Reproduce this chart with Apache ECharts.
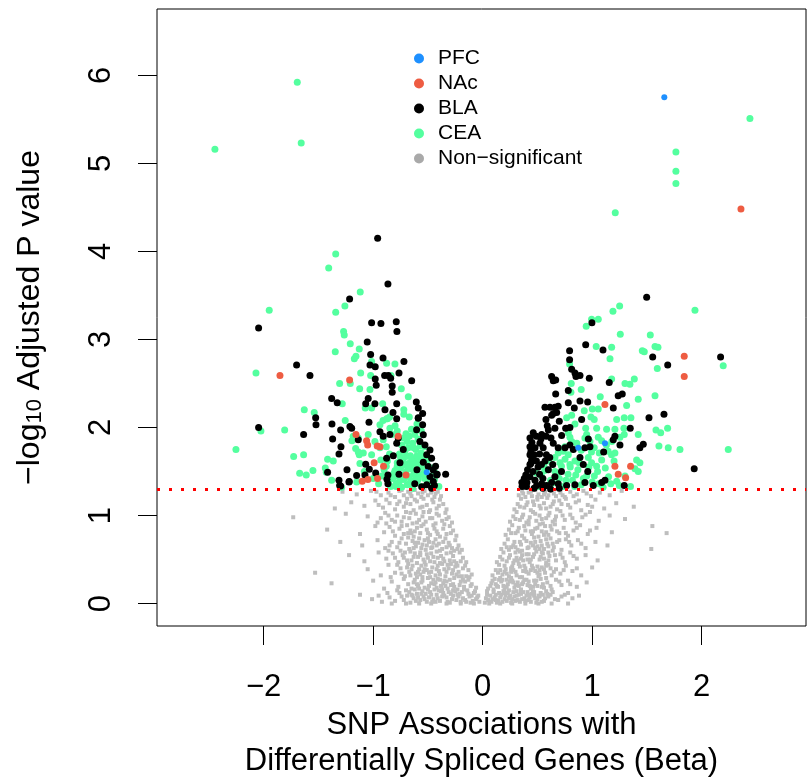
<!DOCTYPE html>
<html>
<head>
<meta charset="utf-8">
<script src="https://cdn.jsdelivr.net/npm/echarts@6/dist/echarts.min.js"></script>
<style>
  html, body { margin: 0; padding: 0; background: #fff; }
  #chart { width: 808px; height: 778px; }
</style>
</head>
<body>
<div id="chart"></div>
<script>
// axis ticks and cutoff
const xTicks = [-2, -1, 0, 1, 2];
const yTicks = [0, 1, 2, 3, 4, 5, 6];
const pCutoff = 0.05;
const legendNames = ['PFC', 'NAc', 'BLA', 'CEA', 'Non-significant'];

// [beta, -log10 adjusted p]
const pfcPoints = [
  [-0.511, 1.49], [1.659, 5.75], [1.117, 1.82], [0.873, 1.77]
];

const nacPoints = [
  [-1.851, 2.59], [-1.215, 2.54], [-1.157, 1.92], [-1.06, 1.85], [-1.05, 1.8], [-0.963, 1.79],
  [-0.771, 1.9], [-0.991, 1.6], [-0.905, 1.56], [-0.96, 1.42], [-1.048, 1.41], [-1.1, 1.39],
  [-0.7, 1.46], [-0.938, 1.78],
  [2.359, 4.48], [1.841, 2.81], [1.841, 2.58], [1.117, 2.26], [1.208, 1.56], [1.351, 1.56],
  [1.238, 1.47], [1.306, 1.43]
];

const blaPoints = [
  // left
  [-0.959, 4.15], [-0.865, 3.63], [-1.215, 3.46], [-2.046, 3.13], [-1.014, 3.19], [-0.929, 3.18],
  [-0.789, 3.2], [-0.783, 3.09], [-1.054, 2.97], [-1.023, 2.83], [-0.91, 2.79], [-0.719, 2.75],
  [-1.029, 2.71], [-0.981, 2.69], [-1.699, 2.71], [-1.577, 2.59], [-0.764, 2.62], [-0.981, 2.55],
  [-0.895, 2.59], [-0.862, 2.59], [-0.84, 2.56], [-0.648, 2.53], [-0.972, 2.48], [-0.826, 2.47],
  [-0.826, 2.4], [-1.379, 2.33], [-1.045, 2.33], [-1.328, 2.28], [-0.984, 2.27], [-1.068, 2.27],
  [-0.785, 2.27], [-0.606, 2.29], [-0.892, 2.2], [-0.588, 2.22], [-1.525, 2.11], [-1.522, 2.03],
  [-0.819, 2.17], [-0.785, 2.1], [-0.548, 2.16], [-0.588, 2.11], [-1.376, 2.04], [-1.038, 2.06],
  [-1.212, 2.01], [-1.297, 1.97], [-2.046, 2.0], [-1.635, 1.92], [-1.37, 1.87], [-1.294, 1.78],
  [-1.312, 1.7], [-1.239, 1.52], [-1.221, 1.38], [-1.312, 1.4], [-1.306, 1.34], [-1.416, 1.49],
  [-1.218, 1.385], [-1.297, 1.336], [-1.151, 1.453], [-1.068, 1.583], [-1.035, 1.526], [-0.977, 1.484],
  [-1.075, 1.461], [-0.865, 1.461], [-0.764, 1.469], [-0.874, 1.413], [-0.865, 1.362],
  [-1.196, 1.99], [-1.136, 1.86], [-0.938, 1.95], [-0.908, 1.9], [-0.847, 1.92], [-0.771, 1.88],
  [-0.785, 1.82], [-0.725, 1.75], [-0.816, 1.68], [-0.877, 1.65], [-0.755, 1.6],
  [-0.588, 2.105], [-0.548, 2.03], [-0.603, 1.973], [-0.542, 1.916], [-0.573, 1.84], [-0.527, 1.802],
  [-0.481, 1.745], [-0.511, 1.689], [-0.466, 1.651], [-0.542, 1.606], [-0.497, 1.556], [-0.451, 1.518],
  [-0.42, 1.461], [-0.481, 1.442], [-0.451, 1.385], [-0.511, 1.348], [-0.466, 1.31], [-0.557, 1.328],
  [-0.415, 1.47], [-0.338, 1.47], [-0.44, 1.34], [-0.43, 1.56], [-0.6, 1.52], [-0.62, 1.36],
  // right
  [1.498, 3.48], [0.998, 3.19], [0.941, 2.94], [1.099, 2.88], [0.794, 2.87], [1.553, 2.8],
  [0.794, 2.77], [1.69, 2.71], [0.813, 2.66], [0.843, 2.62], [0.852, 2.58], [0.889, 2.59],
  [0.63, 2.58], [0.645, 2.53], [0.667, 2.54], [0.974, 2.56], [1.156, 2.51], [0.782, 2.42],
  [0.667, 2.38], [1.238, 2.36], [1.275, 2.38], [0.889, 2.3], [0.959, 2.29], [0.569, 2.23],
  [0.615, 2.23], [0.66, 2.23], [0.69, 2.24], [0.782, 2.28], [0.837, 2.22], [1.193, 2.22],
  [0.645, 2.16], [0.676, 2.17], [0.63, 2.14], [0.904, 2.09], [0.578, 2.09], [1.519, 2.11],
  [1.656, 2.15], [0.758, 1.99], [0.797, 2.0], [0.66, 1.99], [1.348, 1.99], [0.462, 1.94],
  [0.432, 1.88], [0.539, 1.92], [0.532, 1.87], [0.624, 1.88], [0.721, 1.91], [0.965, 1.87],
  [1.208, 1.9], [1.193, 1.86], [0.432, 1.78], [0.441, 1.73], [0.478, 1.77], [0.523, 1.82],
  [0.553, 1.77], [0.645, 1.82], [0.69, 1.77], [0.752, 1.77], [0.797, 1.8], [0.828, 1.75],
  [0.934, 1.77], [0.98, 1.78], [1.254, 1.8], [1.436, 1.77], [1.467, 1.81], [1.932, 1.53],
  [0.432, 1.69], [0.447, 1.63], [0.432, 1.58], [0.491, 1.62], [0.537, 1.58], [0.506, 1.55],
  [0.582, 1.69], [0.613, 1.66], [0.889, 1.66], [0.919, 1.58], [1.105, 1.72], [1.293, 1.34],
  [2.173, 2.8], [0.358, 1.375], [0.404, 1.375], [0.394, 1.46], [0.432, 1.44], [0.478, 1.4],
  [0.493, 1.34], [0.539, 1.36], [0.584, 1.34], [0.63, 1.375], [0.69, 1.36], [0.767, 1.34],
  [0.843, 1.35], [0.934, 1.375], [1.01, 1.34], [1.087, 1.375], [1.117, 1.4], [0.46, 1.5],
  [0.52, 1.47], [0.72, 1.5], [0.96, 1.5],
  [0.38, 1.42], [0.41, 1.52], [0.44, 1.59], [0.47, 1.69], [0.45, 1.83], [0.49, 1.9], [0.4, 1.33],
  [0.36, 1.33], [0.52, 1.7], [0.57, 1.62], [0.55, 1.42], [0.6, 1.52], [0.64, 1.58], [0.66, 1.44],
  [0.62, 1.3], [0.7, 1.31], [0.47, 1.31], [0.55, 1.31], [0.58, 1.9], [0.6, 1.97], [0.7, 2.07], [0.59, 2.02]
];

const ceaPoints = [
  // left
  [-1.693, 5.92], [-2.445, 5.16], [-1.657, 5.23], [-1.342, 3.97], [-1.406, 3.81], [-1.118, 3.54],
  [-1.258, 3.38], [-1.949, 3.33], [-1.342, 3.31], [-1.27, 3.09], [-1.264, 3.05], [-1.209, 2.95],
  [-1.127, 2.89], [-1.346, 2.86], [-1.157, 2.81], [-1.172, 2.78], [-1.014, 2.75], [-0.877, 2.73],
  [-0.801, 2.72], [-2.07, 2.62], [-1.114, 2.62], [-1.023, 2.59], [-0.837, 2.59], [-1.306, 2.5],
  [-1.209, 2.5], [-1.123, 2.44], [-1.029, 2.43], [-0.743, 2.44], [-0.679, 2.35], [-1.282, 2.27],
  [-0.913, 2.27], [-1.072, 2.22], [-1.014, 2.22], [-1.629, 2.2], [-1.538, 2.17], [-0.87, 2.1],
  [-0.91, 2.08], [-0.85, 2.12], [-0.72, 2.15], [-1.255, 2.08], [-2.025, 1.96], [-1.808, 1.97],
  [-2.253, 1.75], [-1.726, 1.67], [-1.635, 1.69], [-1.671, 1.48], [-1.611, 1.46], [-1.55, 1.51],
  [-1.416, 1.64], [-1.437, 1.54], [-1.364, 1.62], [-1.428, 1.49], [-1.379, 1.4], [-1.288, 1.32],
  [-1.182, 1.9], [-1.194, 1.85], [-1.136, 1.88], [-1.16, 1.76], [-1.127, 1.69], [-1.121, 1.59],
  [-1.09, 1.71], [-1.136, 1.72], [-1.014, 1.69], [-0.938, 1.77], [-0.984, 1.84], [-1.045, 1.92],
  [-0.908, 1.86], [-0.847, 1.99], [-0.938, 2.03], [-0.877, 2.1],
  [-1.0, 1.42], [-0.95, 1.36], [-0.9, 1.52], [-0.83, 1.45], [-1.08, 1.5], [-1.15, 1.38], [-0.79, 1.33],
  [-0.84, 1.33], [-0.79, 1.36], [-0.74, 1.32], [-0.69, 1.35], [-0.64, 1.31], [-0.6, 1.37],
  [-0.55, 1.33], [-0.5, 1.36], [-0.45, 1.32], [-0.4, 1.33],
  [-0.82, 1.42], [-0.77, 1.45], [-0.72, 1.41], [-0.67, 1.44], [-0.62, 1.4], [-0.58, 1.46],
  [-0.53, 1.42], [-0.48, 1.45], [-0.44, 1.41],
  [-0.8, 1.51], [-0.75, 1.54], [-0.7, 1.5], [-0.65, 1.53], [-0.61, 1.49], [-0.56, 1.55],
  [-0.52, 1.51], [-0.47, 1.54],
  [-0.78, 1.6], [-0.73, 1.63], [-0.68, 1.59], [-0.63, 1.62], [-0.58, 1.66], [-0.54, 1.61], [-0.5, 1.64],
  [-0.76, 1.7], [-0.71, 1.73], [-0.66, 1.68], [-0.61, 1.75], [-0.56, 1.71], [-0.53, 1.78],
  [-0.74, 1.8], [-0.69, 1.84], [-0.64, 1.82], [-0.59, 1.87], [-0.7, 1.93], [-0.65, 1.98],
  [-0.6, 2.04], [-0.67, 2.12], [-0.72, 2.2], [-0.87, 1.62], [-0.85, 1.7], [-0.88, 1.78],
  [-0.83, 1.92], [-0.78, 1.96], [-0.8, 2.02],
  [-0.86, 1.38], [-0.81, 1.48], [-0.76, 1.39], [-0.71, 1.47], [-0.66, 1.38], [-0.63, 1.47],
  [-0.59, 1.41], [-0.54, 1.48], [-0.5, 1.4], [-0.46, 1.37], [-0.43, 1.48], [-0.78, 1.56],
  [-0.73, 1.57], [-0.68, 1.55], [-0.64, 1.58], [-0.59, 1.59], [-0.55, 1.65], [-0.51, 1.58],
  [-0.75, 1.66], [-0.7, 1.67], [-0.65, 1.65], [-0.6, 1.68], [-0.68, 1.77], [-0.63, 1.77],
  [-0.57, 1.79], [-0.72, 1.88], [-0.67, 1.9], [-0.62, 1.92], [-0.56, 1.96], [-0.92, 1.45],
  [-0.88, 1.56], [-0.93, 1.63],
  // right
  [2.441, 5.51], [1.765, 5.13], [1.765, 4.91], [1.765, 4.77], [1.211, 4.44], [1.251, 3.38],
  [1.19, 3.32], [1.939, 3.33], [0.995, 3.23], [1.056, 3.23], [0.946, 3.15], [1.257, 3.06],
  [1.531, 3.05], [1.037, 2.92], [1.178, 2.91], [1.458, 2.87], [1.476, 2.86], [1.574, 2.92],
  [1.601, 2.91], [1.163, 2.78], [0.794, 2.72], [1.595, 2.67], [2.197, 2.7], [1.178, 2.55],
  [1.385, 2.55], [1.3, 2.5], [1.345, 2.49], [0.809, 2.5], [0.9, 2.43], [0.806, 2.4],
  [1.074, 2.35], [1.574, 2.36], [1.421, 2.32], [0.928, 2.19], [1.001, 2.21], [1.056, 2.21],
  [1.315, 2.25], [0.767, 2.11], [0.813, 2.14], [0.989, 2.12], [1.019, 2.09], [1.224, 2.09],
  [1.293, 2.11], [1.354, 2.11], [0.843, 2.04], [0.941, 1.99], [1.041, 1.99], [1.132, 1.98],
  [1.208, 1.98], [1.29, 1.99], [1.583, 1.97], [1.626, 1.94], [1.689, 1.99], [1.421, 1.92],
  [0.782, 1.94], [0.797, 1.89], [0.813, 1.84], [0.934, 1.88], [0.95, 1.92], [0.98, 1.84],
  [1.056, 1.89], [1.087, 1.85], [1.254, 1.89], [1.293, 1.92], [0.69, 1.71], [0.736, 1.73],
  [0.782, 1.69], [1.019, 1.77], [0.994, 1.72], [1.065, 1.71], [1.61, 1.79], [1.695, 1.77],
  [1.802, 1.75], [2.243, 1.75], [1.146, 1.73], [1.177, 1.69], [1.208, 1.71], [0.66, 1.66],
  [0.706, 1.6], [0.752, 1.64], [0.797, 1.58], [0.843, 1.62], [0.965, 1.66], [0.995, 1.6],
  [1.041, 1.56], [1.087, 1.63], [1.406, 1.63], [1.436, 1.6], [1.391, 1.53], [1.421, 1.5],
  [1.224, 1.39], [1.248, 1.34], [0.491, 1.48], [0.537, 1.45], [0.567, 1.51], [0.583, 1.34],
  [0.62, 1.4], [0.66, 1.5], [0.7, 1.42], [0.74, 1.33], [0.78, 1.47], [0.82, 1.4],
  [0.87, 1.52], [0.9, 1.35], [0.95, 1.45], [1.0, 1.38], [1.05, 1.5], [1.1, 1.32],
  [1.15, 1.44], [1.3, 1.45], [1.35, 1.33], [0.51, 1.33],
  [0.56, 1.56], [0.6, 1.62], [0.64, 1.37], [0.68, 1.47], [0.72, 1.56], [0.76, 1.4], [0.8, 1.55],
  [0.84, 1.33], [0.85, 1.46], [0.88, 1.6], [0.92, 1.42], [0.97, 1.55], [1.02, 1.45], [1.06, 1.36],
  [1.12, 1.54], [1.17, 1.36], [1.2, 1.62], [0.75, 1.78], [0.86, 1.82], [0.9, 1.74], [1.13, 1.8], [1.18, 1.84]
];

const nonSigLeft = [
  [-0.03, 0.02], [-0.06, 0.05], [-0.09, 0.03], [-0.12, 0.08], [-0.15, 0.02], [-0.18, 0.06], [-0.21, 0.11],
  [-0.24, 0.04], [-0.27, 0.09], [-0.3, 0.01], [-0.33, 0.07], [-0.36, 0.12], [-0.39, 0.03], [-0.42, 0.1],
  [-0.45, 0.05], [-0.48, 0.13], [-0.51, 0.02], [-0.54, 0.08], [-0.57, 0.04], [-0.6, 0.11], [-0.63, 0.06],
  [-0.66, 0.01], [-0.69, 0.09], [-0.72, 0.04], [-0.76, 0.12], [-0.8, 0.03], [-0.85, 0.07], [-0.92, 0.02],
  [-1.01, 0.05], [-1.12, 0.1], [-0.08, 0], [-0.2, 0], [-0.33, 0], [-0.47, 0], [-0.58, 0], [-0.7, 0], [-0.83, 0],
  [-0.06, 0.18], [-0.1, 0.22], [-0.13, 0.27], [-0.17, 0.19], [-0.2, 0.25], [-0.23, 0.16], [-0.26, 0.29],
  [-0.29, 0.21], [-0.32, 0.17], [-0.35, 0.26], [-0.38, 0.2], [-0.41, 0.28], [-0.44, 0.16], [-0.47, 0.23],
  [-0.5, 0.29], [-0.53, 0.18], [-0.56, 0.24], [-0.59, 0.2], [-0.62, 0.27], [-0.65, 0.17], [-0.68, 0.22],
  [-0.72, 0.28], [-0.77, 0.19], [-0.83, 0.25], [-0.9, 0.17], [-1.0, 0.26], [-1.38, 0.23],
  [-0.1, 0.33], [-0.13, 0.38], [-0.16, 0.43], [-0.19, 0.31], [-0.22, 0.36], [-0.25, 0.42], [-0.28, 0.34],
  [-0.31, 0.4], [-0.34, 0.31], [-0.37, 0.45], [-0.4, 0.37], [-0.43, 0.32], [-0.46, 0.41], [-0.49, 0.35],
  [-0.52, 0.44], [-0.55, 0.3], [-0.58, 0.39], [-0.61, 0.34], [-0.64, 0.43], [-0.67, 0.36], [-0.71, 0.31],
  [-0.75, 0.4], [-0.8, 0.35], [-0.86, 0.44], [-0.93, 0.32], [-1.05, 0.39], [-1.53, 0.35],
  [-0.15, 0.47], [-0.18, 0.52], [-0.21, 0.58], [-0.24, 0.46], [-0.27, 0.54], [-0.3, 0.49], [-0.33, 0.57],
  [-0.36, 0.51], [-0.39, 0.46], [-0.42, 0.59], [-0.45, 0.53], [-0.48, 0.48], [-0.51, 0.56], [-0.54, 0.5],
  [-0.57, 0.58], [-0.6, 0.46], [-0.63, 0.53], [-0.66, 0.59], [-0.69, 0.49], [-0.73, 0.55], [-0.77, 0.47],
  [-0.82, 0.57], [-0.88, 0.51], [-0.95, 0.58], [-1.08, 0.48], [-1.22, 0.55],
  [-0.19, 0.61], [-0.22, 0.66], [-0.25, 0.72], [-0.28, 0.63], [-0.31, 0.69], [-0.34, 0.74], [-0.37, 0.62],
  [-0.4, 0.68], [-0.43, 0.73], [-0.46, 0.64], [-0.49, 0.7], [-0.52, 0.61], [-0.55, 0.67], [-0.58, 0.74],
  [-0.61, 0.65], [-0.64, 0.71], [-0.67, 0.62], [-0.7, 0.68], [-0.74, 0.74], [-0.78, 0.64], [-0.83, 0.7],
  [-0.89, 0.63], [-0.96, 0.72], [-1.1, 0.66], [-1.3, 0.7],
  [-0.24, 0.77], [-0.27, 0.83], [-0.3, 0.88], [-0.33, 0.79], [-0.36, 0.85], [-0.39, 0.76], [-0.42, 0.82],
  [-0.45, 0.89], [-0.48, 0.78], [-0.51, 0.84], [-0.54, 0.9], [-0.57, 0.8], [-0.6, 0.86], [-0.63, 0.76],
  [-0.66, 0.83], [-0.69, 0.89], [-0.72, 0.79], [-0.76, 0.85], [-0.8, 0.77], [-0.85, 0.87], [-0.9, 0.81],
  [-0.98, 0.88], [-1.12, 0.79], [-1.42, 0.84],
  [-0.28, 0.92], [-0.31, 0.98], [-0.34, 1.03], [-0.37, 0.94], [-0.4, 1.0], [-0.43, 0.91], [-0.46, 0.97],
  [-0.49, 1.04], [-0.52, 0.93], [-0.55, 0.99], [-0.58, 0.95], [-0.61, 1.02], [-0.64, 0.91], [-0.67, 0.97],
  [-0.7, 1.04], [-0.74, 0.93], [-0.78, 1.0], [-0.83, 0.95], [-0.89, 1.03], [-0.96, 0.92], [-1.05, 0.99],
  [-1.25, 1.02], [-1.73, 0.98],
  [-0.33, 1.07], [-0.36, 1.13], [-0.39, 1.18], [-0.42, 1.08], [-0.45, 1.15], [-0.48, 1.06], [-0.51, 1.12],
  [-0.54, 1.19], [-0.57, 1.09], [-0.6, 1.16], [-0.63, 1.06], [-0.66, 1.13], [-0.69, 1.19], [-0.72, 1.1],
  [-0.76, 1.16], [-0.8, 1.07], [-0.85, 1.14], [-0.91, 1.09], [-0.98, 1.17], [-1.08, 1.11], [-1.2, 1.15],
  [-1.35, 1.08],
  [-0.38, 1.22], [-0.41, 1.27], [-0.44, 1.21], [-0.47, 1.26], [-0.5, 1.23], [-0.53, 1.28], [-0.56, 1.21],
  [-0.59, 1.25], [-0.62, 1.29], [-0.65, 1.22], [-0.68, 1.27], [-0.72, 1.23], [-0.76, 1.28], [-0.8, 1.21],
  [-0.86, 1.26], [-0.93, 1.23], [-1.02, 1.28], [-1.15, 1.24], [-1.28, 1.27],
  [-0.08, 0.12], [-0.14, 0.15], [-0.11, 0.01], [-0.19, 0.13], [-0.25, 0.14], [-0.28, 0.05], [-0.31, 0.13],
  [-0.37, 0.08], [-0.4, 0.15], [-0.43, 0.02], [-0.49, 0.07], [-0.55, 0.14], [-0.61, 0.03], [-0.67, 0.13],
  [-0.15, 0.31], [-0.21, 0.21], [-0.24, 0.33], [-0.3, 0.27], [-0.36, 0.23], [-0.39, 0.33], [-0.45, 0.27],
  [-0.51, 0.38], [-0.57, 0.33], [-0.63, 0.24], [-0.69, 0.41], [-0.26, 0.48], [-0.32, 0.44], [-0.38, 0.54],
  [-0.44, 0.47], [-0.5, 0.52], [-0.56, 0.43], [-0.62, 0.57], [-0.68, 0.45], [-0.72, 0.52], [-0.47, 0.63],
  [-0.53, 0.72], [-0.59, 0.69], [-0.41, 0.79], [-0.65, 0.8], [-0.75, 0.6],
  [-0.05, 0.07], [-0.1, 0.09], [-0.16, 0.04], [-0.22, 0.08], [-0.26, 0.19], [-0.29, 0.11], [-0.34, 0.2],
  [-0.37, 0.16], [-0.41, 0.06], [-0.44, 0.22], [-0.47, 0.1], [-0.5, 0.16], [-0.53, 0.05], [-0.56, 0.11],
  [-0.59, 0.07], [-0.62, 0.16], [-0.65, 0.1], [-0.7, 0.15], [-0.74, 0.08], [-0.78, 0.15], [-0.87, 0.12],
  [-0.95, 0.09], [-0.12, 0.3], [-0.18, 0.27], [-0.27, 0.38], [-0.33, 0.36], [-0.42, 0.39], [-0.48, 0.3],
  [-0.54, 0.36], [-0.6, 0.3], [-0.66, 0.32], [-0.74, 0.34], [-0.78, 0.44], [-0.84, 0.3],
  [-0.2, 0.48], [-0.29, 0.58], [-0.35, 0.48], [-0.41, 0.52], [-0.47, 0.57], [-0.53, 0.47], [-0.59, 0.53],
  [-0.65, 0.49], [-0.71, 0.58], [-0.8, 0.52], [-0.86, 0.6],
  [-0.23, 0.62], [-0.3, 0.66], [-0.36, 0.7], [-0.42, 0.66], [-0.5, 0.74], [-0.56, 0.63], [-0.62, 0.69],
  [-0.68, 0.75], [-0.76, 0.69], [-0.85, 0.66],
  [-0.29, 0.8], [-0.35, 0.9], [-0.44, 0.85], [-0.5, 0.8], [-0.56, 0.88], [-0.62, 0.82], [-0.68, 0.8],
  [-0.74, 0.88], [-0.82, 0.82], [-0.88, 0.91],
  [-0.33, 0.96], [-0.42, 1.02], [-0.48, 0.97], [-0.54, 1.04], [-0.6, 0.92], [-0.66, 1.03], [-0.72, 0.98],
  [-0.8, 0.93], [-0.86, 1.0], [-0.93, 0.97],
  [-0.4, 1.11], [-0.46, 1.18], [-0.55, 1.1], [-0.62, 1.18], [-0.7, 1.14], [-0.78, 1.13], [-0.88, 1.18],
  [-0.95, 1.12], [-0.43, 1.25], [-0.55, 1.26], [-0.66, 1.25], [-0.74, 1.29], [-0.84, 1.23], [-0.97, 1.27],
  [-0.04, 0.09], [-0.07, 0.14], [-0.13, 0.11], [-0.17, 0.16], [-0.2, 0.02], [-0.23, 0.1], [-0.27, 0.15],
  [-0.32, 0.02], [-0.35, 0.09], [-0.38, 0.14], [-0.42, 0.18], [-0.46, 0.02], [-0.52, 0.11], [-0.58, 0.17],
  [-0.64, 0.09], [-0.11, 0.2], [-0.16, 0.25], [-0.22, 0.31], [-0.27, 0.22], [-0.33, 0.25], [-0.39, 0.27],
  [-0.43, 0.24], [-0.49, 0.2], [-0.55, 0.26], [-0.6, 0.22], [-0.18, 0.4], [-0.23, 0.43], [-0.29, 0.45],
  [-0.35, 0.39], [-0.41, 0.43], [-0.47, 0.36], [-0.53, 0.39], [-0.59, 0.36], [-0.65, 0.39], [-0.26, 0.6],
  [-0.33, 0.64], [-0.39, 0.6], [-0.45, 0.69], [-0.51, 0.66], [-0.57, 0.55], [-0.63, 0.63]
];

const nonSigRight = [
  [0.02, 0.01], [0.05, 0.04], [0.08, 0.02], [0.11, 0.07], [0.14, 0.03], [0.17, 0.1], [0.2, 0.05],
  [0.23, 0.12], [0.26, 0.01], [0.29, 0.08], [0.32, 0.04], [0.35, 0.11], [0.38, 0.06], [0.41, 0.13],
  [0.44, 0.02], [0.47, 0.09], [0.5, 0.05], [0.53, 0.12], [0.56, 0.03], [0.6, 0.08], [0.64, 0.13],
  [0.69, 0.04], [0.75, 0.1], [0.82, 0.06], [0.06, 0], [0.16, 0], [0.27, 0], [0.39, 0], [0.51, 0],
  [0.63, 0], [0.78, 0],
  [0.05, 0.17], [0.08, 0.23], [0.11, 0.28], [0.14, 0.19], [0.17, 0.25], [0.2, 0.16], [0.23, 0.22],
  [0.26, 0.29], [0.29, 0.18], [0.32, 0.24], [0.35, 0.16], [0.38, 0.27], [0.41, 0.21], [0.44, 0.17],
  [0.47, 0.26], [0.5, 0.2], [0.53, 0.28], [0.56, 0.18], [0.59, 0.24], [0.63, 0.16], [0.67, 0.27],
  [0.72, 0.21], [0.78, 0.26], [0.86, 0.19], [0.95, 0.24],
  [0.09, 0.32], [0.12, 0.38], [0.15, 0.44], [0.18, 0.33], [0.21, 0.39], [0.24, 0.31], [0.27, 0.42],
  [0.3, 0.36], [0.33, 0.45], [0.36, 0.3], [0.39, 0.4], [0.42, 0.34], [0.45, 0.43], [0.48, 0.37],
  [0.51, 0.31], [0.54, 0.41], [0.57, 0.35], [0.6, 0.44], [0.63, 0.32], [0.67, 0.39], [0.71, 0.34],
  [0.76, 0.43], [0.82, 0.37], [0.9, 0.32], [1.0, 0.41],
  [0.13, 0.47], [0.16, 0.53], [0.19, 0.58], [0.22, 0.48], [0.25, 0.55], [0.28, 0.46], [0.31, 0.52],
  [0.34, 0.59], [0.37, 0.49], [0.4, 0.56], [0.43, 0.47], [0.46, 0.53], [0.49, 0.59], [0.52, 0.5],
  [0.55, 0.57], [0.58, 0.46], [0.61, 0.54], [0.64, 0.6], [0.67, 0.49], [0.71, 0.56], [0.75, 0.47],
  [0.8, 0.58], [0.86, 0.51], [0.94, 0.55], [1.05, 0.49], [1.54, 0.62],
  [0.17, 0.62], [0.2, 0.68], [0.23, 0.73], [0.26, 0.64], [0.29, 0.7], [0.32, 0.61], [0.35, 0.67],
  [0.38, 0.74], [0.41, 0.63], [0.44, 0.69], [0.47, 0.75], [0.5, 0.65], [0.53, 0.71], [0.56, 0.62],
  [0.59, 0.68], [0.62, 0.74], [0.65, 0.64], [0.68, 0.7], [0.72, 0.61], [0.76, 0.73], [0.81, 0.66],
  [0.87, 0.72], [0.94, 0.63], [1.03, 0.7], [1.14, 0.66],
  [0.21, 0.78], [0.24, 0.84], [0.27, 0.89], [0.3, 0.8], [0.33, 0.86], [0.36, 0.77], [0.39, 0.83],
  [0.42, 0.9], [0.45, 0.79], [0.48, 0.85], [0.51, 0.76], [0.54, 0.82], [0.57, 0.88], [0.6, 0.78],
  [0.63, 0.84], [0.66, 0.9], [0.7, 0.8], [0.74, 0.86], [0.78, 0.77], [0.83, 0.83], [0.89, 0.89],
  [0.96, 0.79], [1.04, 0.86], [1.18, 0.81], [1.68, 0.8], [1.55, 0.88],
  [0.25, 0.93], [0.28, 0.99], [0.31, 1.04], [0.34, 0.95], [0.37, 1.01], [0.4, 0.92], [0.43, 0.98],
  [0.46, 1.04], [0.49, 0.94], [0.52, 1.0], [0.55, 0.91], [0.58, 0.97], [0.61, 1.03], [0.64, 0.93],
  [0.67, 0.99], [0.71, 1.05], [0.75, 0.95], [0.8, 1.01], [0.85, 0.92], [0.91, 0.98], [0.98, 1.04],
  [1.06, 0.94], [1.16, 1.0], [1.3, 0.96],
  [0.29, 1.07], [0.32, 1.13], [0.35, 1.19], [0.38, 1.09], [0.41, 1.15], [0.44, 1.06], [0.47, 1.12],
  [0.5, 1.18], [0.53, 1.08], [0.56, 1.14], [0.59, 1.2], [0.62, 1.1], [0.65, 1.16], [0.68, 1.07],
  [0.72, 1.13], [0.76, 1.19], [0.8, 1.09], [0.85, 1.15], [0.9, 1.06], [0.96, 1.12], [1.03, 1.18],
  [1.11, 1.08], [1.22, 1.14], [1.38, 1.1],
  [0.33, 1.23], [0.36, 1.28], [0.39, 1.21], [0.42, 1.26], [0.45, 1.22], [0.48, 1.29], [0.51, 1.24],
  [0.54, 1.21], [0.57, 1.27], [0.6, 1.23], [0.63, 1.28], [0.67, 1.22], [0.71, 1.26], [0.75, 1.21],
  [0.8, 1.27], [0.86, 1.24], [0.92, 1.28], [0.99, 1.22], [1.07, 1.26], [1.16, 1.23], [1.27, 1.28],
  [0.04, 0.1], [0.1, 0.13], [0.13, 0.01], [0.19, 0.14], [0.22, 0.03], [0.25, 0.09], [0.31, 0.14],
  [0.34, 0.02], [0.37, 0.13], [0.43, 0.07], [0.46, 0.14], [0.49, 0.01], [0.55, 0.1], [0.58, 0.14],
  [0.1, 0.16], [0.16, 0.29], [0.22, 0.27], [0.28, 0.24], [0.34, 0.3], [0.4, 0.27], [0.46, 0.19],
  [0.52, 0.33], [0.58, 0.29], [0.2, 0.43], [0.26, 0.36], [0.32, 0.49], [0.38, 0.43], [0.44, 0.5],
  [0.5, 0.42], [0.56, 0.51], [0.62, 0.4], [0.3, 0.58], [0.36, 0.55], [0.42, 0.64], [0.48, 0.7],
  [0.54, 0.66], [0.6, 0.58], [0.46, 0.82], [0.52, 0.9], [0.58, 0.81],
  [0.03, 0.06], [0.07, 0.09], [0.12, 0.04], [0.15, 0.12], [0.18, 0.02], [0.21, 0.09], [0.24, 0.06],
  [0.28, 0.13], [0.3, 0.03], [0.33, 0.1], [0.36, 0.05], [0.4, 0.09], [0.42, 0.04], [0.45, 0.11],
  [0.48, 0.06], [0.52, 0.08], [0.57, 0.06], [0.62, 0.1], [0.66, 0.05], [0.72, 0.08], [0.78, 0.12],
  [0.88, 0.09], [0.07, 0.2], [0.12, 0.22], [0.15, 0.27], [0.19, 0.2], [0.25, 0.25], [0.3, 0.21],
  [0.36, 0.22], [0.42, 0.25], [0.48, 0.22], [0.55, 0.22], [0.62, 0.2], [0.7, 0.25], [0.8, 0.22],
  [0.14, 0.35], [0.2, 0.36], [0.26, 0.4], [0.31, 0.32], [0.37, 0.37], [0.44, 0.38], [0.5, 0.35],
  [0.56, 0.39], [0.65, 0.36], [0.74, 0.38], [0.86, 0.4],
  [0.18, 0.5], [0.24, 0.52], [0.29, 0.49], [0.35, 0.51], [0.41, 0.5], [0.47, 0.56], [0.53, 0.53],
  [0.6, 0.49], [0.66, 0.55], [0.73, 0.52], [0.83, 0.54],
  [0.22, 0.64], [0.28, 0.66], [0.34, 0.7], [0.4, 0.71], [0.46, 0.66], [0.52, 0.62], [0.58, 0.73],
  [0.64, 0.68], [0.7, 0.72], [0.79, 0.7], [0.9, 0.68],
  [0.26, 0.8], [0.32, 0.82], [0.38, 0.88], [0.44, 0.82], [0.5, 0.86], [0.56, 0.78], [0.62, 0.88],
  [0.68, 0.82], [0.76, 0.8], [0.86, 0.86], [0.98, 0.83],
  [0.3, 0.96], [0.36, 0.98], [0.42, 0.94], [0.48, 1.02], [0.54, 0.96], [0.6, 1.0], [0.66, 0.95],
  [0.73, 1.0], [0.82, 0.97], [0.94, 1.01],
  [0.34, 1.1], [0.4, 1.12], [0.46, 1.16], [0.52, 1.11], [0.58, 1.08], [0.64, 1.13], [0.7, 1.17],
  [0.78, 1.12], [0.88, 1.17], [1.0, 1.1],
  [0.37, 1.25], [0.44, 1.27], [0.5, 1.21], [0.56, 1.24], [0.65, 1.25], [0.73, 1.23], [0.83, 1.22],
  [0.95, 1.25],
  [0.04, 0.14], [0.09, 0.05], [0.12, 0.1], [0.16, 0.07], [0.2, 0.12], [0.24, 0.15], [0.27, 0.05],
  [0.31, 0.09], [0.35, 0.14], [0.39, 0.03], [0.42, 0.1], [0.47, 0.13], [0.51, 0.09], [0.54, 0.02],
  [0.59, 0.11], [0.09, 0.26], [0.13, 0.2], [0.18, 0.27], [0.22, 0.19], [0.27, 0.26], [0.33, 0.2],
  [0.37, 0.24], [0.43, 0.2], [0.49, 0.26], [0.54, 0.19], [0.16, 0.38], [0.22, 0.34], [0.28, 0.38],
  [0.34, 0.42], [0.4, 0.36], [0.46, 0.4], [0.52, 0.38], [0.58, 0.43], [0.24, 0.61], [0.3, 0.64],
  [0.36, 0.6], [0.42, 0.56], [0.48, 0.63], [0.54, 0.58], [0.6, 0.65]
];

const colors = {
  PFC: '#1e90ff',
  NAc: '#ee5c42',
  BLA: '#000000',
  CEA: '#54ff9f',
  'Non-significant': '#bebebe'
};

const fontFamily = '"Liberation Sans", Arial, Helvetica, sans-serif';
const minusLabel = (v) => (v < 0 ? '\u2212' + Math.abs(v) : String(v));

const dotSeries = (name, data, size) => ({
  name: name,
  type: 'scatter',
  data: data,
  symbol: 'circle',
  symbolSize: size,
  itemStyle: { color: colors[name], opacity: 1 },
  emphasis: { disabled: true },
  silent: true
});

const chart = echarts.init(document.getElementById('chart'));

const option = {
  animation: false,
  backgroundColor: '#ffffff',
  textStyle: { fontFamily: fontFamily },
  grid: {
    left: 157, top: 9, width: 649, height: 617,
    show: true, borderColor: '#000', borderWidth: 1,
    containLabel: false,
    outerBoundsMode: 'none'
  },
  legend: {
    orient: 'vertical',
    left: 409,
    top: 41,
    itemGap: 0,
    itemWidth: 28,
    itemHeight: 10,
    icon: 'circle',
    data: [
      { name: 'PFC' },
      { name: 'NAc' },
      { name: 'BLA' },
      { name: 'CEA' },
      { name: 'Non-significant', itemStyle: { color: '#a9a9a9' } }
    ],
    formatter: (name) => name.replace('-', '\u2212'),
    textStyle: { fontSize: 21, color: '#000', lineHeight: 25, fontFamily: fontFamily },
    selectedMode: false
  },
  xAxis: {
    type: 'value',
    min: -2.974,
    max: 2.953,
    axisLine: { show: false, onZero: false },
    splitLine: { show: false },
    axisTick: {
      show: true, customValues: xTicks, length: 19,
      lineStyle: { color: '#000', width: 1 }
    },
    axisLabel: {
      customValues: xTicks, formatter: minusLabel, margin: 46,
      fontSize: 31, lineHeight: 31, color: '#000', fontFamily: fontFamily
    },
    name: 'SNP Associations with\nDifferentially Spliced Genes (Beta)',
    nameLocation: 'middle',
    nameGap: 75,
    nameTextStyle: { fontSize: 31, lineHeight: 36, color: '#000', fontFamily: fontFamily }
  },
  yAxis: {
    type: 'value',
    min: -0.255,
    max: 6.753,
    axisLine: { show: false, onZero: false },
    splitLine: { show: false },
    axisTick: {
      show: true, customValues: yTicks, length: 19,
      lineStyle: { color: '#000', width: 1 }
    },
    axisLabel: {
      customValues: yTicks, formatter: minusLabel, rotate: 90, margin: 40,
      fontSize: 31, lineHeight: 31, color: '#000', fontFamily: fontFamily
    },
    name: '\u2212log{sub|10} Adjusted P value',
    nameLocation: 'middle',
    nameRotate: 90,
    nameGap: 111,
    nameTextStyle: {
      fontSize: 32, lineHeight: 32, color: '#000', fontFamily: fontFamily,
      rich: {
        sub: { fontSize: 22, verticalAlign: 'bottom', padding: [18, 0, 0, 0], fontFamily: fontFamily, color: '#000' }
      }
    }
  },
  series: [
    Object.assign(dotSeries('Non-significant', nonSigLeft.concat(nonSigRight), 4), { symbol: 'rect' }),
    dotSeries('CEA', ceaPoints, 7),
    dotSeries('BLA', blaPoints, 7),
    dotSeries('NAc', nacPoints, 7),
    Object.assign(dotSeries('PFC', pfcPoints, 6), {
      markLine: {
        silent: true,
        symbol: ['none', 'none'],
        label: { show: false },
        lineStyle: { color: '#ff0000', type: [3, 9], width: 3 },
        data: [{ yAxis: -Math.log10(pCutoff) }]
      }
    })
  ]
};

chart.setOption(option);
</script>
</body>
</html>
